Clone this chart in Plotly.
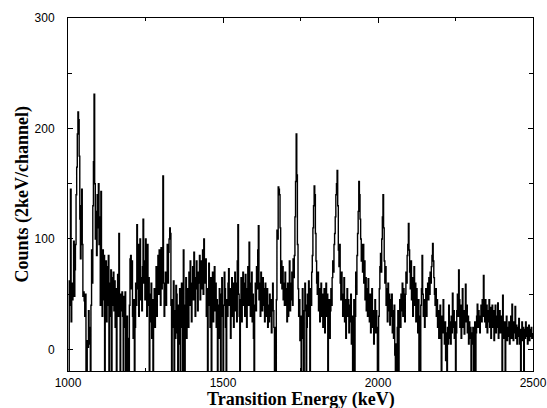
import plotly.graph_objects as go

# Channel energies (keV), 2 keV per channel
energy_start = 1000
channel_width = 2

counts = [
    # 1000-1048
    -30, -25, 62, 40, 145, 25, 60, 45, 55, 98, 48, 72, 95, 140, 165, 195, 215, 208, 175, 118, 82, 130, 145, 95, 48,
    # 1050-1098
    52, 44, 30, 50, -25, -30, 8, 2, 35, 20, 5, -25, 40, 90, 60, 130, 170, 231, 150, 100, 125, 85, 140, 110, 150,
    # 1100-1148
    95, 120, 40, 143, 70, 30, 90, 45, 85, -25, 55, 80, 25, 75, 40, 85, -22, 60, 30, 72, -25, 65, 40, 70, 35,
    # 1150-1198
    62, 20, 55, -25, 45, 68, 30, 105, 40, -22, 50, 35, 52, 30, -25, 48, 20, 52, -25, 15, 30, -20, 10, -25, 40,
    # 1200-1248
    82, 85, 55, 80, 30, 10, 45, -25, 20, 60, 40, 113, 55, 95, 30, 70, 100, 45, 65, 35, 75, 118, 60, 80, 45,
    # 1250-1298
    100, 55, 30, 95, 40, 65, -22, 50, 25, 60, 10, 45, -25, 35, 55, 20, 45, 75, 30, 62, 85, 50, 90, 60, 40,
    # 1300-1348
    92, 55, 70, 157, 60, 30, 55, 70, 40, 70, 95, 60, 88, 100, 110, 105, 40, -25, 45, 20, 62, -22, 35, 10, 58,
    # 1350-1398
    50, 15, -25, 40, 5, 55, -25, 30, 60, 20, -25, 90, 40, -25, 35, 65, 10, 45, 55, 20, 70, 40, 80, 55, 25,
    # 1400-1448
    60, 75, 45, 88, 50, 30, 65, 80, 55, 35, 70, 60, 85, 45, 70, 80, 55, 90, 50, 100, 75, 60, 82, 30, 55,
    # 1450-1498
    -25, 50, 78, 40, 20, 65, -20, 45, 70, 25, 55, 75, 35, 60, 20, 45, -25, 40, 10, 55, 25, -22, 50, 65, 30,
    # 1500-1548
    -25, 40, 70, 55, 20, -25, 45, 30, 60, 73, 40, 55, 10, 45, 65, 30, 60, 20, 50, 70, 35, 60, 25, 80, 113,
    # 1550-1598
    50, 30, -25, 45, 65, 25, 55, 70, 40, 60, 30, 68, 45, 20, 55, 75, 40, 97, 60, 30, 55, 70, 25, 50, 10,
    # 1600-1648
    -25, 40, 60, 35, 75, 55, 90, 112, 45, 60, 30, 70, 50, 35, 65, 40, 55, 25, 60, 45, 30, 55, 20, 40, 25,
    # 1650-1698
    50, 30, 45, 15, 40, 60, 35, 20, -25, 20, -25, 45, 108, 100, 147, 145, 140, 110, 60, 80, 55, 75, 45, 60, 40,
    # 1700-1748
    70, 40, 55, 25, 60, 30, 50, 80, 35, 60, 45, 70, 40, 82, 65, 85, 120, 152, 195, 158, 95, 55, 30, 45, 8,
    # 1750-1798
    30, -25, 25, 55, 10, -25, 35, 60, 40, -25, 20, 50, 30, 62, 45, -20, 55, 40, 70, 85, 110, 130, 148, 140, 105,
    # 1800-1848
    80, 60, 50, 70, 35, 55, 25, 45, 60, 30, 50, 20, 40, 55, 15, 35, 60, 30, 50, -25, 25, 45, 10, 35, 55,
    # 1850-1898
    40, 65, 80, 70, 95, 105, 120, 140, 150, 162, 130, 90, 75, 95, 60, 45, 70, 50, 30, 48, 65, 25, 45, 10, 38,
    # 1900-1948
    55, 30, 45, 15, 40, 25, 50, 5, 30, -25, 20, 45, -22, 30, 70, 50, 85, 105, 125, 152, 140, 118, 100, 80, 95,
    # 1950-1998
    70, 95, 60, 80, 45, 65, 35, 55, 30, 64, 40, 25, 50, 15, 40, 55, 20, 35, 5, 30, 45, 15, 35, 20, -25,
    # 2000-2048
    -25, 30, 55, 75, 87, 70, 100, 120, 140, 110, 80, 60, 75, 40, 55, 25, 60, 35, 50, 22, 45, 30, 50, 15, 35,
    # 2050-2098
    10, 40, -5, -25, 5, -25, 20, 35, -20, 30, 45, 20, 50, 35, 60, 30, 55, 40, 25, 50, 70, 60, 85, 95, 114,
    # 2100-2148
    90, 70, 55, 80, 45, 65, 30, 50, 75, 40, 60, 25, 55, 35, 15, 45, -25, 30, -20, 40, 55, 85, 50, 30, 45,
    # 2150-2198
    20, 40, 55, 30, 50, 60, 45, 65, 50, 70, 60, 75, 85, 96, 80, 65, 50, 40, 55, 30, 45, 20, 35, 10, 30,
    # 2200-2248
    40, 10, -25, 30, 15, 45, 20, 5, 25, -10, 15, -25, 20, 5, 40, 10, 25, 5, 30, 15, 51, 20, 35, 10, 25,
    # 2250-2298
    -25, 15, 35, 50, 30, 72, 45, 20, 40, 10, 30, 55, 20, 35, 14, 30, 59, 25, 40, 15, 30, 5, 25, 10, 20,
    # 2300-2348
    -25, 15, 5, 20, -25, 10, 25, -20, 15, 30, 41, 20, 35, 26, 15, 30, 40, 25, 45, 30, 67, 40, 25, 45, 20,
    # 2350-2398
    40, 15, 35, 25, 45, 20, 38, 10, 30, 40, 20, 35, 8, 25, 40, 15, 30, 20, 42, 10, 28, 35, 15, 30, 20,
    # 2400-2448
    -25, 49, 20, 10, 25, -22, 15, 30, 8, 20, 12, 25, 5, 18, 30, 10, 41, 20, 8, 25, 15, 39, 10, 22, 5,
    # 2450-2498
    20, 12, 28, 5, 18, -22, 15, 25, 8, 20, -25, 18, 10, 25, 12, 20, 5, 15, 22, 8, 18, 12, 20, 10, 15,
]

energies = [energy_start + channel_width * i for i in range(len(counts))]

x_tick_vals = [1000, 1500, 2000, 2500]
x_tick_text = ["1000", "1500", "2000", "2500"]
y_tick_vals = [0, 100, 200, 300]
y_tick_text = ["0", "100", "200", "300"]

x_title = "Transition Energy (keV)"
y_title = "Counts (2keV/channel)"

fig = go.Figure()
fig.add_trace(go.Scatter(
    x=energies, y=counts, mode="lines",
    line=dict(color="black", width=1.4, shape="hv"),
    showlegend=False, hoverinfo="skip",
))

axis_common = dict(
    showline=True, linecolor="black", linewidth=1, mirror="ticks",
    ticks="inside", ticklen=5, tickcolor="black", tickwidth=1,
    showgrid=False, zeroline=False, automargin=False,
    tickfont=dict(family="Liberation Sans, Arial, sans-serif", size=12, color="black"),
)

fig.update_xaxes(
    range=[1000, 2500], tickvals=x_tick_vals, ticktext=x_tick_text,
    minor=dict(dtick=250, tick0=1000, ticks="inside", ticklen=3, tickcolor="black"),
    ticklabelstandoff=1,
    **axis_common,
)
fig.update_yaxes(
    range=[-19.5, 300], tickvals=y_tick_vals, ticktext=y_tick_text,
    minor=dict(dtick=50, tick0=0, ticks="inside", ticklen=4, tickcolor="black"),
    ticklabelstandoff=10,
    **axis_common,
)

fig.update_layout(
    width=547, height=408,
    margin=dict(l=68, r=14, t=18, b=37),
    paper_bgcolor="white", plot_bgcolor="white",
    annotations=[
        dict(text="<b>" + x_title + "</b>", xref="paper", yref="paper", x=0.5, y=0,
             xanchor="center", yanchor="middle", yshift=-28, showarrow=False,
             font=dict(family="Liberation Serif, Times New Roman, serif", size=18, color="black")),
        dict(text="<b>" + y_title + "</b>", xref="paper", yref="paper", x=0, y=0.5,
             xanchor="center", yanchor="middle", xshift=-46, textangle=-90, showarrow=False,
             font=dict(family="Liberation Serif, Times New Roman, serif", size=18, color="black")),
    ],
)

# Remove the browser's default 8px body margin so the figure sits at (0, 0).
fig.write_html(
    "out.html",
    config={"displayModeBar": False},
    post_script="document.body.style.margin='0';document.body.style.overflow='hidden';",
)
